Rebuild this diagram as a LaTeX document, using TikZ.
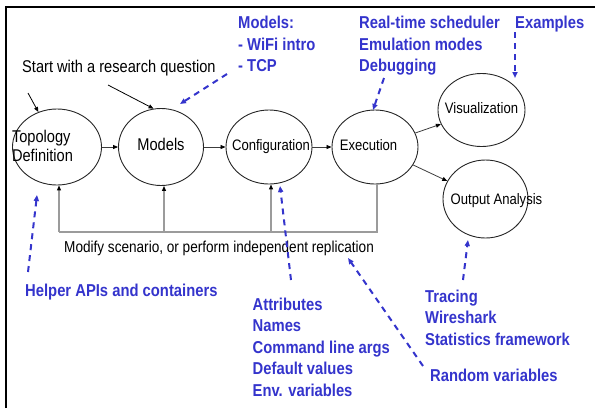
\documentclass[tikz,border=0pt]{standalone}
\usepackage{fontspec}
\setmainfont{Liberation Sans}[FakeStretch=0.86]
\usetikzlibrary{shapes.geometric,arrows.meta}
\definecolor{nsblue}{RGB}{52,52,204}
\definecolor{fbgray}{RGB}{155,155,155}
\definecolor{edgegray}{RGB}{60,60,60}
\tikzset{
  stage/.style={ellipse,draw=black!85,line width=0.9pt,inner sep=0pt},
  stagetxt/.style={inner sep=0pt,align=left},
  bigtxt/.style={font=\fontsize{17}{19}\selectfont},
  smalltxt/.style={font=\fontsize{15.2}{18}\selectfont},
  bluetext/.style={text=nsblue,font=\fontsize{17.2}{21.5}\selectfont\bfseries,align=left,inner sep=0pt,anchor=north west},
  blacktext/.style={text=black,inner sep=0pt,anchor=base west},
  tip/.style={-{Triangle[length=5pt,width=4pt,color=black]}},
  flow/.style={draw=edgegray,line width=0.8pt,tip},
  fb/.style={draw=fbgray,line width=1.1pt},
  fbarrow/.style={fb,tip},
  note/.style={draw=nsblue,line width=2pt,dash pattern=on 6pt off 5pt,-{Triangle[length=6pt,width=5pt]}},
  startarrow/.style={draw=black,line width=0.8pt,tip},
}
\begin{document}
\begin{tikzpicture}[x=1pt,y=-1pt]
\useasboundingbox (0,0) rectangle (595,408);
% frame
\draw[line width=2.5pt] (6,408) -- (6,7) -- (595,7);

% stages
\node[stage,minimum width=89pt,minimum height=76pt,
  label={[stagetxt,bigtxt,xshift=-14.5pt,yshift=0.6pt]center:Topology\\Definition}] (topo) at (57,147) {};
\node[stage,minimum width=85pt,minimum height=77pt,
  label={[stagetxt,bigtxt,yshift=2.3pt]center:Models}] (models) at (161,147) {};
\node[stage,minimum width=86pt,minimum height=74pt,
  label={[stagetxt,smalltxt,xshift=2pt,yshift=0.8pt]center:Configuration}] (config) at (269,147) {};
\node[stage,minimum width=86pt,minimum height=74pt,
  label={[stagetxt,smalltxt,xshift=-6.5pt,yshift=2.4pt]center:Execution}] (exec) at (375,147) {};
\node[stage,minimum width=87pt,minimum height=73pt,
  label={[stagetxt,smalltxt,yshift=2.4pt]center:Visualization}] (vis) at (481.5,110) {};
\node[stage,minimum width=85pt,minimum height=78pt,
  label={[stagetxt,smalltxt,xshift=11pt,yshift=-1.1pt]center:Output Analysis}] (out) at (485.5,199) {};

% flow arrows
\draw[flow] (topo.east) -- (models.west);
\draw[flow] (models.east) -- (config.west);
\draw[flow] (config.east) -- (exec.west);
\draw[flow] (exec) -- (vis);
\draw[flow] (exec) -- (out);

% feedback loop
\coordinate (fbl) at (0,232);
\draw[fb] ([xshift=2pt]exec.south) -- ([xshift=2pt]exec.south |- fbl) -- ([xshift=2pt]topo.south |- fbl);
\draw[fbarrow] ([xshift=2pt]topo.south |- fbl) -- ([xshift=2pt]topo.south);
\draw[fbarrow] ([xshift=3pt]models.south |- fbl) -- ([xshift=3pt]models.south);
\draw[fbarrow] ([xshift=2pt]config.south |- fbl) -- ([xshift=2pt]config.south);
\node[blacktext,font=\fontsize{15.8}{18}\selectfont] (modify) at (64,252.3)
  {Modify scenario, or perform independent replication};

% start text
\node[blacktext,font=\fontsize{17}{19}\selectfont] (start) at (22,72.7) {Start with a research question};
\coordinate (s1) at (28,93);
\coordinate (s2) at (108,85);
\draw[startarrow] (s1) -- (topo.118);
\draw[startarrow] (s2) -- (models.101);

% blue annotations
\node[bluetext] (nmodels) at (238,16) {Models:\\- WiFi intro\\- TCP};
\node[bluetext] (nexec) at (359,16) {Real-time scheduler\\Emulation modes\\Debugging};
\node[bluetext] (nex) at (515,16) {Examples};
\node[bluetext] (nhelper) at (25,284.3) {Helper APIs and containers};
\node[bluetext] (nattr) at (252.5,297.8) {Attributes\\Names\\Command line args\\Default values\\Env. variables};
\node[bluetext] (ntrace) at (425,289.5) {Tracing\\Wireshark\\Statistics framework};
\node[bluetext] (nrand) at (430,368.8) {Random variables};

% dashed pointers
\coordinate (a1s) at (227,74);   \coordinate (a1e) at (180,104);
\coordinate (a2s) at (384,78);   \coordinate (a2e) at (373,110);
\coordinate (a3s) at (515,32);   \coordinate (a3e) at (515,78);
\coordinate (a4s) at (28,272);   \coordinate (a4e) at (37,195);
\coordinate (a5s) at (291,280);  \coordinate (a5e) at (280,186);
\coordinate (a6s) at (423,366);  \coordinate (a6e) at (348,258);
\coordinate (a7s) at (463,280);  \coordinate (a7e) at (468,240);
\draw[note] (a1s) -- (a1e);
\draw[note] (a2s) -- (a2e);
\draw[note] (a3s) -- (a3e);
\draw[note] (a4s) -- (a4e);
\draw[note] (a5s) -- (a5e);
\draw[note] (a6s) -- (a6e);
\draw[note] (a7s) -- (a7e);
\end{tikzpicture}
\end{document}
